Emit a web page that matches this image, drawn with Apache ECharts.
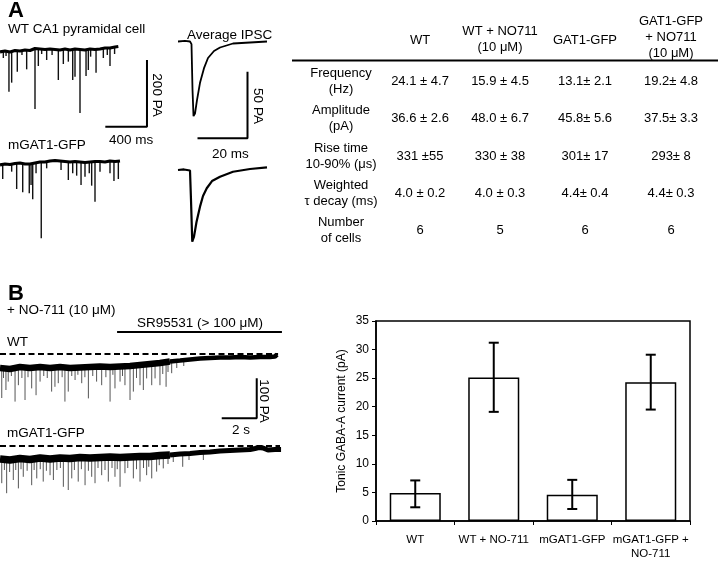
<!DOCTYPE html>
<html><head><meta charset="utf-8">
<script src="https://cdn.jsdelivr.net/npm/echarts/dist/echarts.min.js"></script>
<style>html,body{margin:0;padding:0;background:#fff}#c{width:720px;height:561px}</style>
</head><body><div id="c"></div>
<script>
// ---------------- DATA ----------------
// Panel A, WT trace: baseline [ms, pA] and events [ms, base pA, peak pA]
const wtABase = [[0,-6],[48,-3],[96,-6],[144,-1.5],[192,-3],[240,0],[288,-1.5],[336,4.5],[384,3],[432,1.5],[480,3],[528,1.5],[576,0],[624,3],[672,0],[720,3],[768,1.5],[816,0],[864,3],[912,1.5],[960,3],[1008,6],[1056,6],[1104,9],[1136,10.5]];
const wtAEvents = [[32,-3,-24],[58,-4,-18],[86,-6,-125],[112,-5,-98],[166,-2,-65],[211,-2,-15],[256,-1,-58],[336,4,-177],[368,3,-48],[400,3,-12],[448,2,-30],[500,2,-15],[560,0,-90],[608,2,-42],[656,1,-35],[698,1,-90],[720,3,-80],[768,1,-189],[826,0,-78],[848,1,-60],[870,2,-20],[922,2,-68],[992,5,-24],[1030,6,-15],[1056,6,-48],[1100,8,-12]];
// Panel A, mGAT1-GFP trace
const mgABase = [[0,-6],[48,-3],[96,-4.5],[144,-1.5],[192,0],[240,-3],[288,-3],[336,0],[384,3],[432,3],[480,6],[528,7.5],[576,6],[624,4.5],[672,3],[720,4.5],[768,3],[816,1.5],[864,3],[912,4.5],[960,4.5],[1008,3],[1056,6],[1104,4.5],[1152,6]];
const mgAEvents = [[26,-6,-48],[112,-4,-26],[160,-2,-78],[218,0,-88],[281,-3,-91],[298,-3,-66],[314,-2,-109],[346,0,-31],[396,3,-226],[448,3,-16],[586,6,-21],[656,3,-51],[698,3,-31],[736,4,-38],[778,3,-66],[816,2,-41],[857,3,-31],[880,3,-68],[912,4,-116],[960,4,-26],[1056,6,-31],[1094,5,-54],[1136,5,-48]];
// Average IPSCs [ms, pA]
const ipscWT = [[1.2,0],[4.0,0.4],[6.0,0],[6.6,-2],[7.0,-36],[7.4,-56],[8.0,-54],[8.8,-44],[10.0,-31],[11.6,-20],[13.2,-12.4],[15.6,-7.1],[18.0,-4.5],[23.2,-1.5],[30.0,-0.75],[36.8,0]];
const ipscMG = [[1.2,0],[3.6,0.4],[6.0,-0.4],[6.4,-22.5],[6.9,-53.8],[7.6,-50],[8.6,-39],[10.0,-27.5],[11.2,-19.5],[12.7,-13.7],[14.8,-8.3],[18.0,-5.0],[23.2,-1.3],[30,0.75],[36.8,2.0]];
// Panel B, WT trace [s, pA]
const wtBBaseEarly = [[0,-35],[0.57,-37.5],[1.14,-32.5],[1.71,-35],[2.29,-32.5],[2.86,-35],[3.43,-32.5],[4.0,-35],[4.57,-33.75],[5.14,-32.5],[5.71,-31.25],[6.29,-32.5],[6.86,-31.25],[7.43,-30],[8.0,-27.5],[8.57,-25],[9.14,-22.5],[9.71,-18.75]];
const wtBBaseLate = [[9.71,-18.75],[10.29,-16.25],[10.86,-13.75],[11.43,-11.25],[12.0,-10],[12.57,-8.75],[13.14,-8.75],[13.71,-7.5],[14.29,-8.75],[14.86,-7.5],[15.43,-7.5],[15.71,-6.25],[15.83,-1.25]];
const wtBEvents = [[0.10,-35,-110],[0.2,-35,-60],[0.34,-35,-90],[0.47,-35,-69],[0.65,-35,-55],[0.86,-35,-119],[1.05,-35,-78],[1.25,-35,-60],[1.43,-35,-115],[1.6,-35,-58],[1.81,-35,-86],[2.06,-33,-103],[2.29,-33,-69],[2.5,-33,-55],[2.7,-34,-60],[2.95,-35,-94],[3.14,-33,-82],[3.33,-33,-73],[3.55,-34,-58],[3.71,-35,-119],[3.90,-35,-94],[4.1,-35,-55],[4.29,-34,-65],[4.45,-34,-52],[4.67,-34,-73],[4.85,-33,-58],[5.05,-33,-111],[5.3,-32,-55],[5.52,-32,-69],[5.81,-31,-78],[6.05,-32,-58],[6.29,-32,-119],[6.45,-32,-52],[6.57,-32,-86],[6.86,-31,-69],[7.0,-31,-55],[7.14,-31,-78],[7.43,-30,-115],[7.62,-29,-94],[7.8,-29,-60],[8.0,-28,-78],[8.19,-27,-90],[8.38,-26,-61],[8.67,-25,-78],[8.86,-24,-61],[9.14,-23,-78],[9.3,-22,-50],[9.49,-21,-82],[9.6,-20,-45],[9.81,-18,-48],[10.1,-17,-35],[10.5,-16,-30]];
// Panel B, mGAT1-GFP trace
const mgBBaseEarly = [[0,-32.5],[0.57,-35],[1.14,-31.25],[1.71,-33.75],[2.29,-30],[2.86,-32.5],[3.43,-30],[4.0,-31.25],[4.57,-28.75],[5.14,-30],[5.71,-28.75],[6.29,-27.5],[6.86,-28.75],[7.43,-27.5],[8.0,-26.25],[8.57,-26.25],[9.14,-23.75],[9.71,-22.5]];
const mgBBaseLate = [[9.71,-22.5],[10.29,-20],[10.86,-18.75],[11.43,-16.25],[12.0,-15],[12.57,-12.5],[13.14,-11.25],[13.71,-10],[14.29,-8.75],[14.57,-6.25],[14.8,-3.75],[15.03,-5],[15.31,-10],[15.71,-8.75],[16.06,-8.75]];
const mgBEvents = [[0.10,-33,-93],[0.25,-33,-60],[0.38,-34,-118],[0.55,-34,-65],[0.76,-32,-85],[0.9,-32,-60],[1.05,-32,-106],[1.2,-32,-58],[1.33,-33,-77],[1.55,-33,-62],[1.81,-33,-98],[1.95,-32,-60],[2.10,-31,-81],[2.3,-31,-58],[2.47,-31,-89],[2.65,-31,-62],[2.86,-32,-73],[3.05,-31,-85],[3.25,-31,-60],[3.45,-30,-55],[3.62,-30,-102],[3.90,-31,-110],[4.10,-30,-81],[4.25,-30,-60],[4.47,-29,-89],[4.65,-29,-58],[4.86,-30,-98],[5.05,-29,-62],[5.24,-29,-77],[5.43,-29,-93],[5.6,-29,-55],[5.81,-28,-73],[6.0,-28,-60],[6.19,-28,-89],[6.4,-28,-55],[6.57,-28,-77],[6.7,-28,-58],[6.86,-28,-102],[7.14,-28,-68],[7.3,-28,-55],[7.62,-27,-81],[7.8,-27,-58],[8.0,-26,-89],[8.2,-26,-55],[8.38,-26,-73],[8.5,-26,-52],[8.67,-26,-81],[8.95,-25,-64],[9.1,-25,-48],[9.33,-24,-56],[9.6,-23,-45],[9.9,-22,-40],[10.44,-20,-52],[10.8,-19,-35],[11.62,-16,-35]];
const zeroLineWT = [[0,0],[15.89,0]];
const zeroLineMG = [[0,0],[16.0,0]];
// Scale bars & drug application bar (data units)
const scaleBarA = [[1011,-230],[1411,-230],[1411,-30]];      // 400 ms, 200 pA
const scaleBarIPSC = [[9,-72.6],[29,-72.6],[29,-22.6]];      // 20 ms, 50 pA
const scaleBarB = [[12.67,-160.75],[14.67,-160.75],[14.67,-60.75]]; // 2 s, 100 pA
const drugBar = [[6.69,55],[16.11,55]];
// Table
const tableCols = ['WT', 'WT + NO711\n(10 μM)', 'GAT1-GFP', 'GAT1-GFP\n+ NO711\n(10 μM)'];
const tableRows = ['Frequency\n(Hz)', 'Amplitude\n(pA)', 'Rise time\n10-90% (μs)', 'Weighted\nτ decay (ms)', 'Number\nof cells'];
const tableValues = [
  ['24.1 ± 4.7', '15.9 ± 4.5', '13.1± 2.1', '19.2± 4.8'],
  ['36.6 ± 2.6', '48.0 ± 6.7', '45.8± 5.6', '37.5± 3.3'],
  ['331 ±55', '330 ± 38', '301± 17', '293± 8'],
  ['4.0 ± 0.2', '4.0 ± 0.3', '4.4± 0.4', '4.4± 0.3'],
  ['6', '5', '6', '6']
];
// Bar chart
const barCats = ['WT', 'WT + NO-711', 'mGAT1-GFP', 'mGAT1-GFP +\nNO-711'];
const barMeans = [4.9, 25.1, 4.6, 24.3];
const barErrLow = [2.4, 19.1, 2.1, 19.5];
const barErrHigh = [7.1, 31.2, 7.2, 29.1];
const barTicks = [0, 5, 10, 15, 20, 25, 30, 35];

// ---------------- LAYOUT / RENDER ----------------
const FONT = '"Liberation Sans", Arial, Helvetica, sans-serif';
const chart = echarts.init(document.getElementById('c'), null, {renderer: 'canvas', width: 720, height: 561});

const grids = [
  {left: 0, top: 40, width: 160, height: 90},     // 0 WT A
  {left: 0, top: 155, width: 125, height: 90},    // 1 mGAT1 A
  {left: 175, top: 35, width: 100, height: 110},  // 2 IPSC WT
  {left: 175, top: 160, width: 100, height: 85},  // 3 IPSC mGAT1
  {left: 0, top: 325, width: 290, height: 100},   // 4 WT B
  {left: 0, top: 440, width: 290, height: 60},    // 5 mGAT1 B
  {left: 376, top: 321, width: 314, height: 201, show: true, borderColor: '#000', borderWidth: 1.5} // 6 bars
];
const xr = [[0,1536],[0,1200],[0,40],[0,40],[0,16.571],[0,16.571]];
const yr = [[-240,30],[-246,24],[-77.625,4.875],[-56.25,7.5],[-177.5,72.5],[-135,15]];
const xAxes = xr.map((r,i)=>({type:'value', gridIndex:i, min:r[0], max:r[1], show:false}));
const yAxes = yr.map((r,i)=>({type:'value', gridIndex:i, min:r[0], max:r[1], show:false}));
xAxes.push({type:'category', gridIndex:6, data: barCats,
  axisLine:{lineStyle:{color:'#000', width:1.5}},
  axisTick:{show:true, alignWithLabel:false, length:4, lineStyle:{color:'#000'}},
  axisLabel:{color:'#000', fontSize:11.5, fontFamily:FONT, margin:12, lineHeight:14, interval:0}});
yAxes.push({type:'value', gridIndex:6, min:barTicks[0], max:barTicks[barTicks.length-1], interval:5,
  name:'Tonic GABA-A current (pA)', nameLocation:'middle', nameGap:28, nameRotate:90,
  nameTextStyle:{color:'#000', fontSize:12, fontFamily:FONT},
  axisLine:{show:true, lineStyle:{color:'#000', width:1.5}},
  axisTick:{show:true, length:4, lineStyle:{color:'#000'}},
  splitLine:{show:false},
  axisLabel:{color:'#000', fontSize:12, fontFamily:FONT, margin:7}});

function line(data, gi, width, color, extra) {
  return Object.assign({type:'line', xAxisIndex:gi, yAxisIndex:gi, data, symbol:'none', showSymbol:false,
    silent:true, clip:false, lineStyle:{color: color || '#000', width: width}}, extra || {});
}
function events(data, gi, color, width) {
  return {type:'custom', xAxisIndex:gi, yAxisIndex:gi, data, silent:true, clip:false,
    encode:{x:0, y:[1,2]},
    renderItem:(p, api)=>{
      const a = api.coord([api.value(0), api.value(1)]);
      const b = api.coord([api.value(0), api.value(2)]);
      return {type:'line', shape:{x1:a[0], y1:a[1], x2:b[0], y2:b[1]}, style:{stroke:color, lineWidth:width}};
    }};
}

const series = [
  line(wtABase, 0, 3.2), events(wtAEvents, 0, '#111', 1.4), line(scaleBarA, 0, 2),
  line(mgABase, 1, 3.2), events(mgAEvents, 1, '#111', 1.4),
  line(ipscWT, 2, 1.8), line(scaleBarIPSC, 2, 2),
  line(ipscMG, 3, 2.2),
  line(wtBBaseEarly, 4, 6.5), line(wtBBaseLate, 4, 4.5), events(wtBEvents, 4, '#555', 1),
  line(zeroLineWT, 4, 1.8, '#000', {lineStyle:{color:'#000', width:1.8, type:[6,3.5]}}),
  line(scaleBarB, 4, 2), line(drugBar, 4, 2),
  line(mgBBaseEarly, 5, 7.5), line(mgBBaseLate, 5, 5), events(mgBEvents, 5, '#555', 1),
  line(zeroLineMG, 5, 1.8, '#000', {lineStyle:{color:'#000', width:1.8, type:[6,3.5]}}),
  {type:'bar', xAxisIndex:6, yAxisIndex:6, data: barMeans, barWidth:'65%', silent:true, z:2,
   itemStyle:{color:'#fff', borderColor:'#000', borderWidth:1.5}},
  {type:'custom', xAxisIndex:6, yAxisIndex:6, silent:true, z:10,
   data: barMeans.map((m,i)=>[i, barErrLow[i], barErrHigh[i]]),
   encode:{x:0, y:[1,2]},
   renderItem:(p, api)=>{
     const lo = api.coord([api.value(0), api.value(1)]);
     const hi = api.coord([api.value(0), api.value(2)]);
     const hw = 5, st = {stroke:'#000', lineWidth:2};
     return {type:'group', children:[
       {type:'line', shape:{x1:lo[0], y1:lo[1], x2:hi[0], y2:hi[1]}, style:st},
       {type:'line', shape:{x1:lo[0]-hw, y1:lo[1], x2:lo[0]+hw, y2:lo[1]}, style:st},
       {type:'line', shape:{x1:hi[0]-hw, y1:hi[1], x2:hi[0]+hw, y2:hi[1]}, style:st}
     ]};
   }}
];

function txt(text, x, y, size, opts) {
  opts = opts || {};
  return {type:'text', x:x, y:y, rotation: opts.rot || 0, silent:true,
    style:{text:text, x:0, y:0, fill:'#000', font:(opts.bold?'bold ':'') + size + 'px ' + FONT,
      textAlign: opts.align || 'left', textVerticalAlign:'middle', lineHeight: opts.lh || Math.round(size*1.2)}};
}

const colX = [420, 500, 585, 671];
const rowY = [81, 118.3, 156, 193.5, 230.7];
const headY = [40, 39.2, 40, 37.5];
const graphics = [
  txt('A', 8, 11, 22, {bold:true}),
  txt('WT CA1 pyramidal cell', 8, 29, 13.5),
  txt('Average IPSC', 187, 35, 13.5),
  txt('400 ms', 109, 140, 13.5),
  txt('200 PA', 157, 95, 13.5, {rot:-Math.PI/2, align:'center'}),
  txt('mGAT1-GFP', 8, 145, 13.5),
  txt('50 PA', 258, 106, 13.5, {rot:-Math.PI/2, align:'center'}),
  txt('20 ms', 212, 154, 13.5),
  txt('B', 8, 294, 22, {bold:true}),
  txt('+ NO-711 (10 μM)', 7, 310, 13.5),
  txt('SR95531 (> 100 μM)', 137, 323, 13.5),
  txt('WT', 7, 342, 13.5),
  txt('100 PA', 264, 401, 13.5, {rot:-Math.PI/2, align:'center'}),
  txt('2 s', 232, 430, 13.5),
  txt('mGAT1-GFP', 7, 433, 13.5),
  {type:'line', silent:true, shape:{x1:292, y1:60.5, x2:718, y2:60.5}, style:{stroke:'#000', lineWidth:1.8}}
];
tableCols.forEach((c,i)=>graphics.push(txt(c, colX[i], headY[i], 13, {align:'center', lh:16})));
tableRows.forEach((r,j)=>{
  graphics.push(txt(r, 341, rowY[j], 13, {align:'center', lh:16}));
  tableValues[j].forEach((v,i)=>graphics.push(txt(v, colX[i], rowY[j], 13, {align:'center'})));
});

chart.setOption({
  animation:false,
  backgroundColor:'#fff',
  grid: grids,
  xAxis: xAxes,
  yAxis: yAxes,
  series: series,
  graphic: {elements: graphics}
});
</script></body></html>
